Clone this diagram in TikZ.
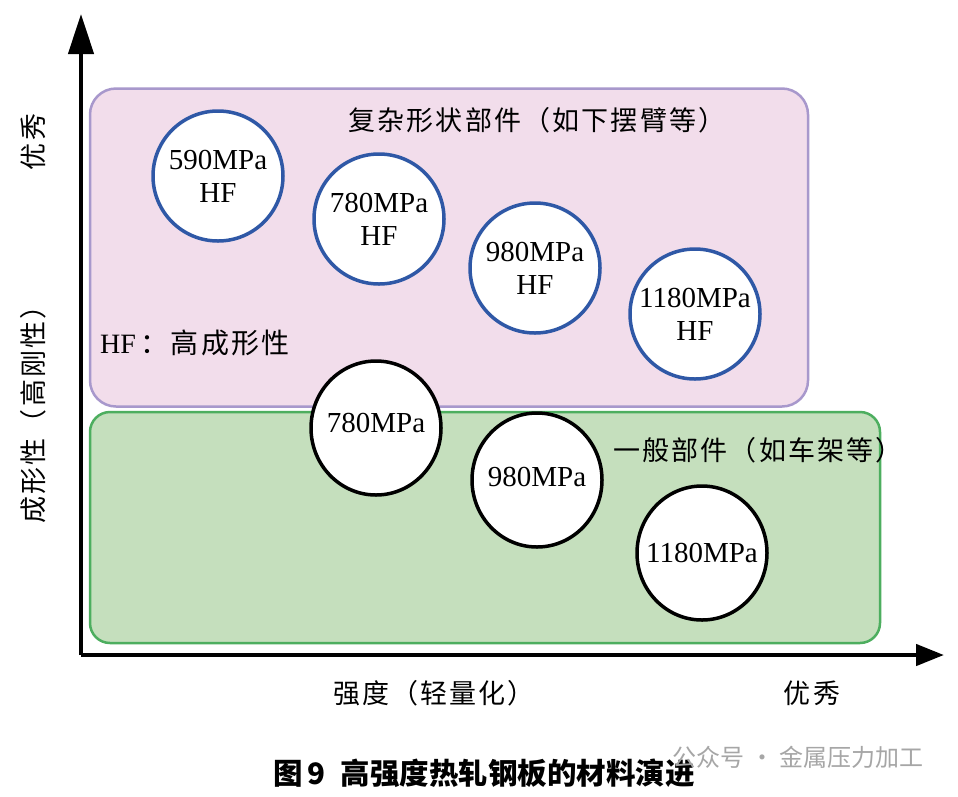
\documentclass[tikz,border=0pt]{standalone}
\usepackage{fontspec}
\setmainfont{Liberation Serif}
\newfontfamily\cjk{Noto Sans CJK SC}
\newfontfamily\cjkw{Noto Sans CJK SC}[LetterSpace=8]
\usetikzlibrary{arrows.meta,shapes.geometric}
\definecolor{pinkfill}{HTML}{F2DDEB}
\definecolor{purpleline}{HTML}{A898CC}
\definecolor{greenfill}{HTML}{C5DFBD}
\definecolor{greenline}{HTML}{4DAE5F}
\definecolor{blueline}{HTML}{2F58A6}
\tikzset{
  valtext/.style={align=center, font=\fontsize{29}{33}\selectfont, inner sep=0pt},
  hfcircle/.style={circle, draw=blueline, line width=3.5pt, fill=white, minimum size=130pt, inner sep=0pt},
  plainell/.style={ellipse, draw=black, line width=3.5pt, fill=white, minimum width=130pt, minimum height=134pt, inner sep=0pt},
  cjklabel/.style={font=\cjkw\fontsize{27}{30}\selectfont, inner sep=0pt},
  axisline/.style={line width=4.5pt}
}
\begin{document}
\begin{tikzpicture}[x=1pt,y=-1pt]
\useasboundingbox[fill=white] (0,0) rectangle (958,796);
% boxes
\node[draw=purpleline, fill=pinkfill, line width=2.5pt, rounded corners=26pt, minimum width=718pt, minimum height=318pt, inner sep=0pt] (pinkbox) at (449,247.5) {};
\node[draw=greenline, fill=greenfill, line width=2.5pt, rounded corners=20pt, minimum width=790pt, minimum height=231pt, inner sep=0pt] (greenbox) at (485,527.5) {};
% axes
\coordinate (O) at (81,655);
\coordinate (ytop) at (81,14);
\coordinate (xend) at (944,655);
\draw[axisline, -{Triangle[length=40pt,width=25pt]}] (O) -- (ytop);
\draw[axisline, -{Triangle[length=28pt,width=21pt]}] (O) -- (xend);
% blue circles
\node[hfcircle] (c590) at (218,176) {};
\node[valtext] (t590) at (c590) {590MPa\\HF};
\node[hfcircle] (c780h) at (379,219) {};
\node[valtext] (t780h) at (c780h) {780MPa\\HF};
\node[hfcircle] (c980h) at (535,268) {};
\node[valtext] (t980h) at (c980h) {980MPa\\HF};
\node[hfcircle] (c1180h) at (695,314) {};
\node[valtext] (t1180h) at (c1180h) {1180MPa\\HF};
% black ellipses
\node[plainell] (e780) at (376,428) {};
\node[valtext] (t780) at ([yshift=5pt]e780.center) {780MPa};
\node[plainell] (e980) at (537,480) {};
\node[valtext] (t980) at ([yshift=3pt]e980.center) {980MPa};
\node[plainell] (e1180) at (702,553) {};
\node[valtext] (t1180) at (e1180) {1180MPa};
% labels
\node[cjklabel] (complex) at (537,120) {复杂形状部件（如下摆臂等）};
\node[font=\fontsize{28}{30}\selectfont, inner sep=0pt, anchor=west] (hf) at (100,343) {HF\,{\cjkw ：高成形性}};
\node[cjklabel] (general) at (758,450) {一般部件（如车架等）};
\node[cjklabel, rotate=90] (ylab) at (33,408) {成形性（高刚性）};
\node[cjklabel, rotate=90] (ygood) at (33,142) {优秀};
\node[cjklabel] (xlab) at (434,693) {强度（轻量化）};
\node[cjklabel] (xgood) at (812,693) {优秀};
\node[font=\cjk\bfseries\fontsize{29.5}{32}\selectfont, inner sep=0pt] (caption) at (484,773) {图\,9\enspace 高强度热轧钢板的材料演进};
\node[font=\cjk\fontsize{24}{28}\selectfont, text=black!35, inner sep=0pt] (wm) at (798,757) {公众号 · 金属压力加工};
\end{tikzpicture}
\end{document}
